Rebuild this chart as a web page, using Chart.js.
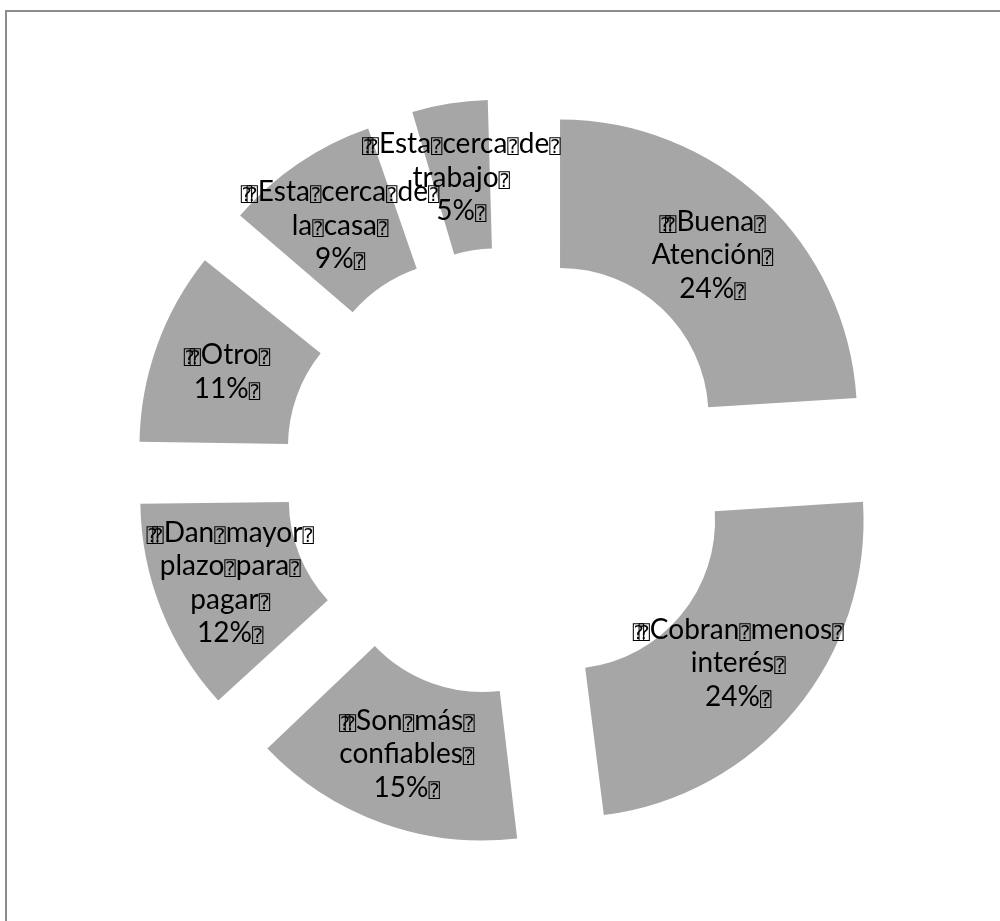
<!DOCTYPE html>
<html>
<head>
<meta charset="utf-8">
<script src="https://cdn.jsdelivr.net/npm/chart.js@4.4.1/dist/chart.umd.min.js"></script>
<style>
  html, body { margin: 0; padding: 0; background: #fff; overflow: hidden; }
  #wrap { position: relative; width: 1000px; height: 921px; }
  #frame { position: absolute; left: 5px; top: 10px; width: 1000px; height: 1000px;
           border: 2px solid #8c8c8c; box-sizing: border-box; }
  canvas { position: absolute; left: 0; top: 0; }
</style>
</head>
<body>
<div id="wrap">
  <div id="frame"></div>
  <canvas id="chart" width="1000" height="921"></canvas>
</div>
<script>
// Placeholder glyph that stands in for the unprintable characters in the labels
const BOX = '\u2370';

// Category label lines (reasons for choosing the lender)
const categories = [
  [BOX + BOX + 'Buena' + BOX, 'Atención' + BOX],
  [BOX + BOX + 'Cobran' + BOX + 'menos' + BOX, 'interés' + BOX],
  [BOX + BOX + 'Son' + BOX + 'más' + BOX, 'confiables' + BOX],
  [BOX + BOX + 'Dan' + BOX + 'mayor' + BOX, 'plazo' + BOX + 'para' + BOX, 'pagar' + BOX],
  [BOX + BOX + 'Otro' + BOX],
  [BOX + BOX + 'Esta' + BOX + 'cerca' + BOX + 'de' + BOX, 'la' + BOX + 'casa' + BOX],
  [BOX + BOX + 'Esta' + BOX + 'cerca' + BOX + 'de' + BOX, 'trabajo' + BOX]
];

// Share of respondents, in percent
const shares = [24, 24, 15, 12, 11, 9, 5];

const SLICE_COLOR = '#a6a6a6';
const EXPLODE = 76;          // radial shift of every slice, px
const TEXT_FONT = '28px Lato';
const BOX_FONT = '19px "DejaVu Sans Mono"';
const LINE_PITCH = 33.5;

// Chart.js also grows small slices' radii by (offset * fix); undo that so all
// exploded slices keep the same ring size.
const keepRingSize = {
  id: 'keepRingSize',
  afterDatasetUpdate(chart, args) {
    args.meta.data.forEach(arc => {
      const shift = (arc.options.offset || 0) / 4;
      const fix = 1 - Math.sin(Math.min(Math.PI, arc.circumference || 0));
      const r = shift * fix;
      arc.$ringFix = r;
      arc.outerRadius -= r;
      arc.innerRadius -= r;
    });
  }
};

function drawLine(ctx, text, cx, baseline) {
  // runs of ordinary text and of placeholder glyphs; stacked placeholders overlap by half
  const runs = [];
  for (const ch of text) {
    const isBox = ch === BOX;
    const last = runs[runs.length - 1];
    if (last && last.box === isBox) last.t += ch;
    else runs.push({ t: ch, box: isBox });
  }
  runs.forEach(r => {
    if (r.box) {
      ctx.font = BOX_FONT;
      r.g = ctx.measureText(BOX).width;
      r.w = r.g * (1 + 0.5 * (r.t.length - 1));
    } else {
      ctx.font = TEXT_FONT;
      r.w = ctx.measureText(r.t).width;
    }
  });
  const total = runs.reduce((s, r) => s + r.w, 0);
  let x = cx - total / 2;
  runs.forEach(r => {
    if (r.box) {
      ctx.font = BOX_FONT;
      for (let j = 0; j < r.t.length; j++) ctx.fillText(BOX, x + j * r.g * 0.5, baseline);
    } else {
      ctx.font = TEXT_FONT;
      ctx.fillText(r.t, x, baseline);
    }
    x += r.w;
  });
}

const sliceLabels = {
  id: 'sliceLabels',
  afterDatasetsDraw(chart) {
    const ctx = chart.ctx;
    const meta = chart.getDatasetMeta(0);
    ctx.save();
    ctx.fillStyle = '#000';
    ctx.textAlign = 'left';
    ctx.textBaseline = 'alphabetic';
    meta.data.forEach((arc, i) => {
      const shift = (arc.options.offset || 0) / 4;
      const fixR = arc.$ringFix || 0;
      const mid = (arc.startAngle + arc.endAngle) / 2;
      const r = (arc.innerRadius + arc.outerRadius) / 2 + fixR + shift;
      const cx = arc.x + Math.cos(mid) * r;
      const cy = arc.y + Math.sin(mid) * r;
      const lines = categories[i].concat([shares[i] + '%' + BOX]);
      const n = lines.length;
      lines.forEach((ln, k) => {
        const middle = cy + (k - (n - 1) / 2) * LINE_PITCH;
        drawLine(ctx, ln, cx, middle + 10);
      });
    });
    ctx.restore();
  }
};

new Chart(document.getElementById('chart'), {
  type: 'doughnut',
  data: {
    labels: categories.map(c => c.join(' ')),
    datasets: [{
      data: shares,
      backgroundColor: SLICE_COLOR,
      borderWidth: 0,
      offset: EXPLODE * 4,
      hoverOffset: 0
    }]
  },
  options: {
    responsive: false,
    animation: false,
    radius: 297,
    cutout: '50%',
    layout: { padding: { left: 16, right: 0, top: 23, bottom: 0 } },
    plugins: { legend: { display: false }, tooltip: { enabled: false } }
  },
  plugins: [keepRingSize, sliceLabels]
});
</script>
</body>
</html>
